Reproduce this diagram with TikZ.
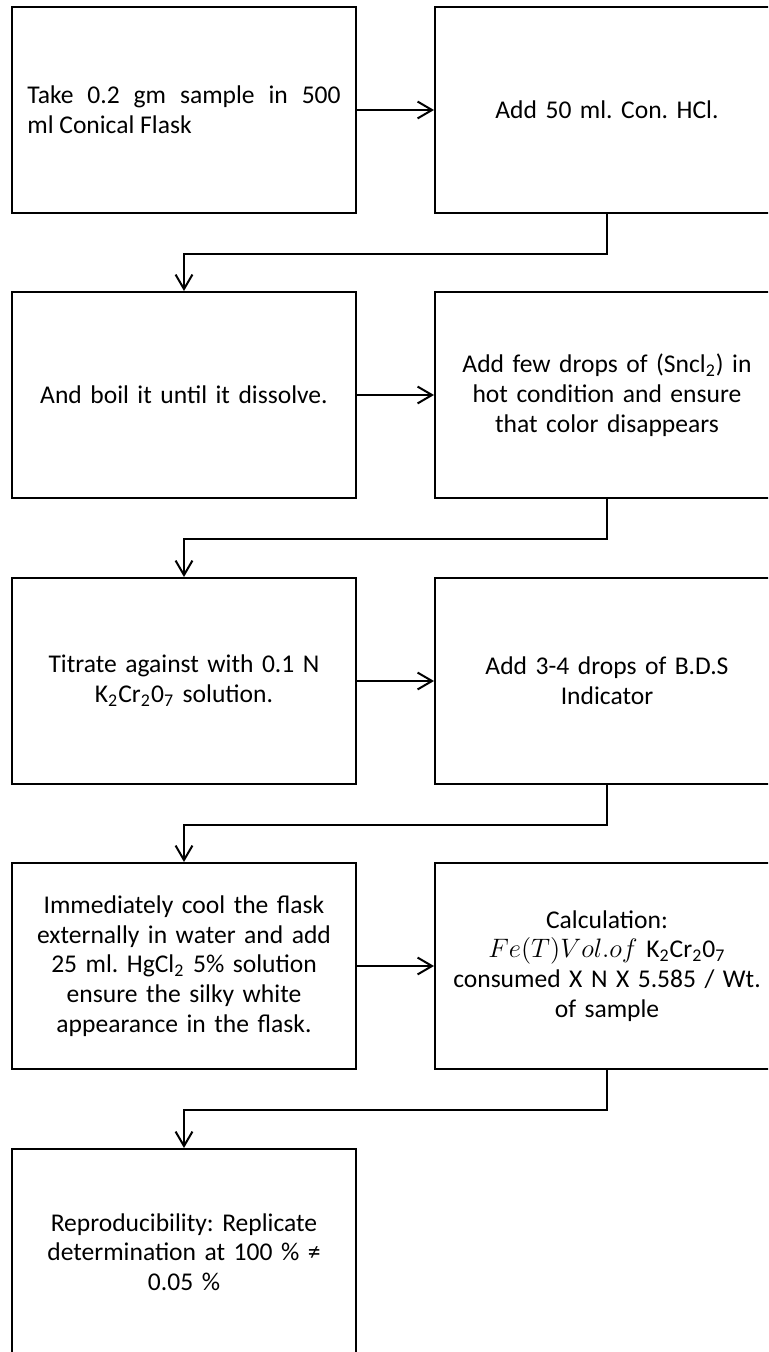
\documentclass[tikz,border=0pt]{standalone}
\usepackage{fontspec}
\setmainfont{Carlito}
\usepackage{tikz}
\usetikzlibrary{arrows.meta}
\frenchspacing

\begin{document}
\begin{tikzpicture}[x=0.45pt, y=-0.45pt,
  stepbox/.style={rectangle, draw=black, line width=0.9pt, minimum width=154.8pt, minimum height=92.7pt,
    inner sep=0pt, text width=141pt, align=center, font=\fontsize{11.5}{13.4}\selectfont},
  flow/.style={draw=black, line width=0.9pt, -{Straight Barb[length=6.5pt, width=7.6pt, line width=0.9pt]}}]
  \useasboundingbox (0,0) rectangle (768,1352);
  \clip (0,0) rectangle (768,1352);
  \node[stepbox, align=justify] (take) at (184,110) {Take 0.2 gm sample in 500\linebreak ml Conical Flask};
  \node[stepbox] (hcl) at (607,110) {Add 50 ml. Con. HCl.};
  \node[stepbox] (boil) at (184,395) {And boil it until it dissolve.};
  \node[stepbox] (sncl) at (607,395) {Add few drops of (Sncl\textsubscript{2}) in\\hot condition and ensure\\that color disappears};
  \node[stepbox] (titrate) at (184,681) {Titrate against with 0.1 N\\K\textsubscript{2}Cr\textsubscript{2}0\textsubscript{7} solution.};
  \node[stepbox] (bds) at (607,681) {Add 3-4 drops of B.D.S\\Indicator};
  \node[stepbox] (cool) at (184,966) {Immediately cool the flask\\externally in water and add\\25 ml. HgCl\textsubscript{2} 5\% solution\\ensure the silky white\\appearance in the flask.};
  \node[stepbox] (calc) at (607,966) {Calculation:\\$Fe(T)Vol.of$ K\textsubscript{2}Cr\textsubscript{2}0\textsubscript{7}\\consumed X N X 5.585 / Wt.\\of sample};
  \node[stepbox] (repro) at (184,1252) {Reproducibility: Replicate\\determination at 100 \% ≠\\0.05 \%};
  % row links
  \draw[flow] (take) -- (hcl);
  \draw[flow] (boil) -- (sncl);
  \draw[flow] (titrate) -- (bds);
  \draw[flow] (cool) -- (calc);
  % turn-back links
  \draw[flow] (hcl.south) -- ++(0,40) -| (boil.north);
  \draw[flow] (sncl.south) -- ++(0,40) -| (titrate.north);
  \draw[flow] (bds.south) -- ++(0,40) -| (cool.north);
  \draw[flow] (calc.south) -- ++(0,40) -| (repro.north);
\end{tikzpicture}
\end{document}
